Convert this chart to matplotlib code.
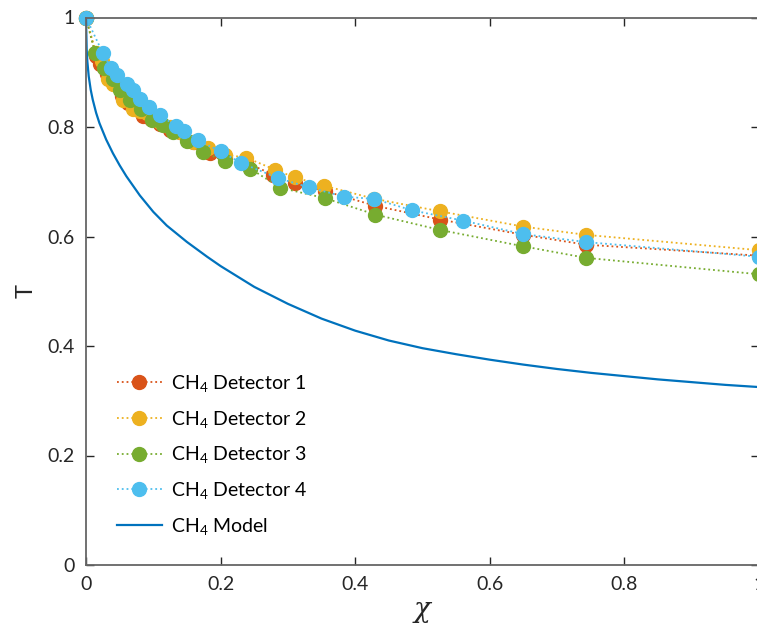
import matplotlib
matplotlib.use("Agg")
import matplotlib.pyplot as plt

# ---- data ----
x_d1 = [0, 0.015, 0.021, 0.031, 0.042, 0.053, 0.063, 0.075, 0.085, 0.096, 0.11, 0.125, 0.14, 0.16,
        0.184, 0.206, 0.238, 0.278, 0.31, 0.355, 0.43, 0.526, 0.65, 0.743, 1.0]
t_d1 = [1, 0.93, 0.915, 0.896, 0.878, 0.856, 0.843, 0.832, 0.82, 0.815, 0.806, 0.795, 0.79, 0.772,
        0.753, 0.743, 0.735, 0.713, 0.697, 0.683, 0.656, 0.631, 0.603, 0.585, 0.565]

x_d2 = [0, 0.015, 0.024, 0.033, 0.04, 0.055, 0.07, 0.08, 0.09, 0.1, 0.11, 0.125, 0.14, 0.159,
        0.181, 0.2065, 0.238, 0.281, 0.31, 0.353, 0.428, 0.526, 0.65, 0.743, 1.0]
t_d2 = [1, 0.935, 0.92, 0.887, 0.878, 0.85, 0.832, 0.83, 0.825, 0.815, 0.81, 0.8, 0.79, 0.773,
        0.762, 0.7495, 0.744, 0.722, 0.708, 0.693, 0.669, 0.646, 0.618, 0.603, 0.575]

x_d3 = [0, 0.0134, 0.0267, 0.0396, 0.05, 0.065, 0.082, 0.0976, 0.115, 0.13, 0.15, 0.174, 0.2065,
        0.244, 0.289, 0.355, 0.43, 0.526, 0.65, 0.743, 1.0]
t_d3 = [1, 0.935, 0.908, 0.887, 0.868, 0.85, 0.832, 0.8135, 0.804, 0.79, 0.775, 0.755, 0.737,
        0.724, 0.689, 0.670, 0.640, 0.612, 0.582, 0.561, 0.531]

x_d4 = [0, 0.0248, 0.0371, 0.0465, 0.0614, 0.0703, 0.0802, 0.0941, 0.110, 0.1333, 0.1461, 0.166,
        0.2001, 0.2303, 0.2857, 0.3314, 0.3834, 0.4284, 0.4848, 0.5606, 0.6498, 0.7429, 1.0]
t_d4 = [1, 0.9355, 0.9081, 0.8958, 0.8788, 0.8671, 0.8519, 0.8367, 0.8212, 0.8026, 0.7934, 0.7757,
        0.7556, 0.7344, 0.7066, 0.6898, 0.6728, 0.6686, 0.6477, 0.6289, 0.6044, 0.5898, 0.563]

x_model = [0, 0.001, 0.002, 0.004, 0.007, 0.01, 0.015, 0.02, 0.03, 0.04, 0.05, 0.06, 0.08, 0.1,
           0.12, 0.15, 0.18, 0.2, 0.25, 0.3, 0.35, 0.4, 0.45, 0.5, 0.55, 0.6, 0.65, 0.7, 0.75,
           0.8, 0.85, 0.9, 0.95, 1.0]
t_model = [1.0, 0.942, 0.92, 0.893, 0.868, 0.85, 0.826, 0.807, 0.777, 0.752, 0.73, 0.71, 0.675,
           0.645, 0.62, 0.59, 0.563, 0.546, 0.508, 0.477, 0.45, 0.428, 0.41, 0.396, 0.385,
           0.375, 0.366, 0.358, 0.351, 0.345, 0.339, 0.334, 0.329, 0.325]

labels = ["CH$_4$ Detector 1", "CH$_4$ Detector 2", "CH$_4$ Detector 3", "CH$_4$ Detector 4",
          "CH$_4$ Model"]
xticks = [0, 0.2, 0.4, 0.6, 0.8, 1]
xticklabels = ["0", "0.2", "0.4", "0.6", "0.8", "1"]
yticks = [0, 0.2, 0.4, 0.6, 0.8, 1]
yticklabels = ["0", "0.2", "0.4", "0.6", "0.8", "1"]

colors = ["#D95319", "#EDB120", "#77AC30", "#4DBEEE"]
model_color = "#0072BD"

plt.rcParams['font.family'] = ['Lato', 'DejaVu Sans']
plt.rcParams['mathtext.fontset'] = 'custom'
plt.rcParams['mathtext.rm'] = 'Lato'
plt.rcParams['mathtext.it'] = 'DejaVu Serif:italic'

fig = plt.figure(figsize=(7.57, 6.41), dpi=100)
ax = fig.add_axes([86/757, 1-565/641, (759-86)/757, (565-17.5)/641])

series = [(x_d1, t_d1), (x_d2, t_d2), (x_d3, t_d3), (x_d4, t_d4)]
for (xs, ts), c, lab in zip(series, colors, labels[:4]):
    ax.plot(xs, ts, linestyle=':', color=c, linewidth=1.3, marker='o', markersize=10,
            markerfacecolor=c, markeredgecolor=c, label=lab, clip_on=False)
ax.plot(x_model, t_model, '-', color=model_color, linewidth=1.6, label=labels[4])

ax.set_xlim(0, 1)
ax.set_ylim(0, 1)
ax.set_xticks(xticks)
ax.set_xticklabels(xticklabels)
ax.set_yticks(yticks)
ax.set_yticklabels(yticklabels)
ax.tick_params(direction='in', length=6, width=1, top=True, right=True, labelsize=14,
               colors='#262626', pad=8)
for s in ax.spines.values():
    s.set_color('#666666')
    s.set_linewidth(1.3)
ax.set_xlabel(r'$\chi$', fontsize=20, color='#262626', labelpad=4)
ax.set_ylabel('T', fontsize=17, color='#262626', labelpad=8)

leg = ax.legend(loc='lower left', bbox_to_anchor=(0.02, 0.02), frameon=False, fontsize=14,
                handlelength=2.3, labelspacing=0.75, handletextpad=0.5)

fig.savefig("out.png", dpi=100)
